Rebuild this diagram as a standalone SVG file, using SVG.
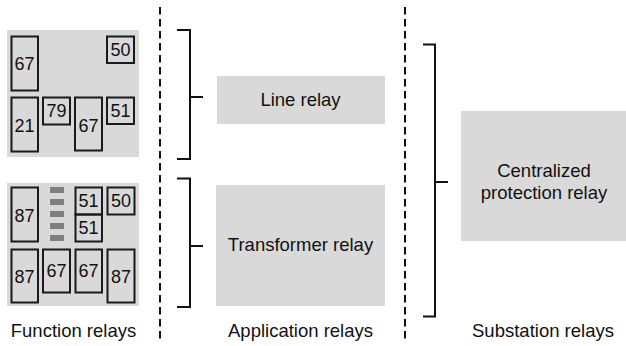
<svg xmlns="http://www.w3.org/2000/svg" width="626" height="346" viewBox="0 0 626 346">
  <style>
    text { font-family: "Liberation Sans", Arial, sans-serif; fill: #111; }
    .panel { fill: #d9d9d9; }
    .box { fill: none; stroke: #1a1a1a; stroke-width: 2; }
    .num { font-size: 18px; text-anchor: middle; }
    .lbl { font-size: 18.5px; text-anchor: middle; }
    .tick { fill: #7f7f7f; }
    .divider { stroke: #111; stroke-width: 2; stroke-dasharray: 7.5 4.5; fill: none; }
    .bracket { stroke: #111; stroke-width: 2; fill: none; }
  </style>

  <!-- column dividers -->
  <g id="dividers">
    <line class="divider" x1="160" y1="7" x2="160" y2="341"/>
    <line class="divider" x1="405" y1="7" x2="405" y2="341"/>
  </g>

  <!-- function relay panel: line protection -->
  <g id="line-functions">
    <rect class="panel" x="7" y="30" width="132" height="127"/>
    <rect class="box" x="11.5" y="36.5" width="26.5" height="54"/>
    <text class="num" x="24.5" y="70">67</text>
    <rect class="box" x="107" y="36.5" width="27" height="26.5"/>
    <text class="num" x="120.5" y="56">50</text>
    <rect class="box" x="11.5" y="97.5" width="26.5" height="54"/>
    <text class="num" x="24.5" y="131.5">21</text>
    <rect class="box" x="43" y="97.5" width="27" height="27"/>
    <text class="num" x="56.5" y="117">79</text>
    <rect class="box" x="75" y="97.5" width="27" height="53"/>
    <text class="num" x="88.5" y="131.5">67</text>
    <rect class="box" x="107" y="97.5" width="27" height="26.5"/>
    <text class="num" x="120.5" y="116.5">51</text>
  </g>

  <!-- function relay panel: transformer protection -->
  <g id="transformer-functions">
    <rect class="panel" x="7" y="183" width="132" height="123"/>
    <rect class="tick" x="50" y="187" width="14" height="6"/>
    <rect class="tick" x="50" y="199" width="14" height="6"/>
    <rect class="tick" x="50" y="211" width="14" height="6"/>
    <rect class="tick" x="50" y="223" width="14" height="6"/>
    <rect class="tick" x="50" y="235" width="14" height="6"/>
    <rect class="box" x="11.5" y="187.5" width="26.5" height="54"/>
    <text class="num" x="24.5" y="221.5">87</text>
    <rect class="box" x="75.5" y="187.5" width="26.5" height="27"/>
    <text class="num" x="88.5" y="207">51</text>
    <rect class="box" x="75.5" y="214.5" width="26.5" height="27"/>
    <text class="num" x="88.5" y="233.5">51</text>
    <rect class="box" x="107.5" y="187.5" width="27" height="27"/>
    <text class="num" x="121" y="207">50</text>
    <rect class="box" x="11.5" y="249.5" width="26.5" height="53"/>
    <text class="num" x="24.5" y="283">87</text>
    <rect class="box" x="43" y="249.5" width="27" height="43"/>
    <text class="num" x="56.5" y="277">67</text>
    <rect class="box" x="75.5" y="249.5" width="26.5" height="43"/>
    <text class="num" x="88.5" y="277">67</text>
    <rect class="box" x="107.5" y="249.5" width="27" height="53"/>
    <text class="num" x="121" y="283">87</text>
  </g>

  <!-- application relays -->
  <g id="line-relay">
    <rect class="panel" x="217" y="76" width="168" height="48"/>
    <text class="lbl" x="300.5" y="106">Line relay</text>
  </g>
  <g id="transformer-relay">
    <rect class="panel" x="216" y="185" width="169" height="121"/>
    <text class="lbl" x="300.5" y="251">Transformer relay</text>
  </g>

  <!-- substation relay -->
  <g id="central-relay">
    <rect class="panel" x="461" y="111" width="165" height="130"/>
    <text class="lbl" x="544" y="177">Centralized</text>
    <text class="lbl" x="544" y="198.5">protection relay</text>
  </g>

  <!-- grouping brackets -->
  <g id="connectors">
    <path class="bracket" d="M177 30 H190 V159 H177 M190 97 H203"/>
    <path class="bracket" d="M177 178.5 H190 V307 H177 M190 246 H203"/>
    <path class="bracket" d="M423 44.5 H435 V316.5 H423 M435 182 H448"/>
  </g>

  <!-- column captions -->
  <g id="captions">
    <text class="lbl" x="73.5" y="337">Function relays</text>
    <text class="lbl" x="300.5" y="337">Application relays</text>
    <text class="lbl" x="543" y="337">Substation relays</text>
  </g>
</svg>
